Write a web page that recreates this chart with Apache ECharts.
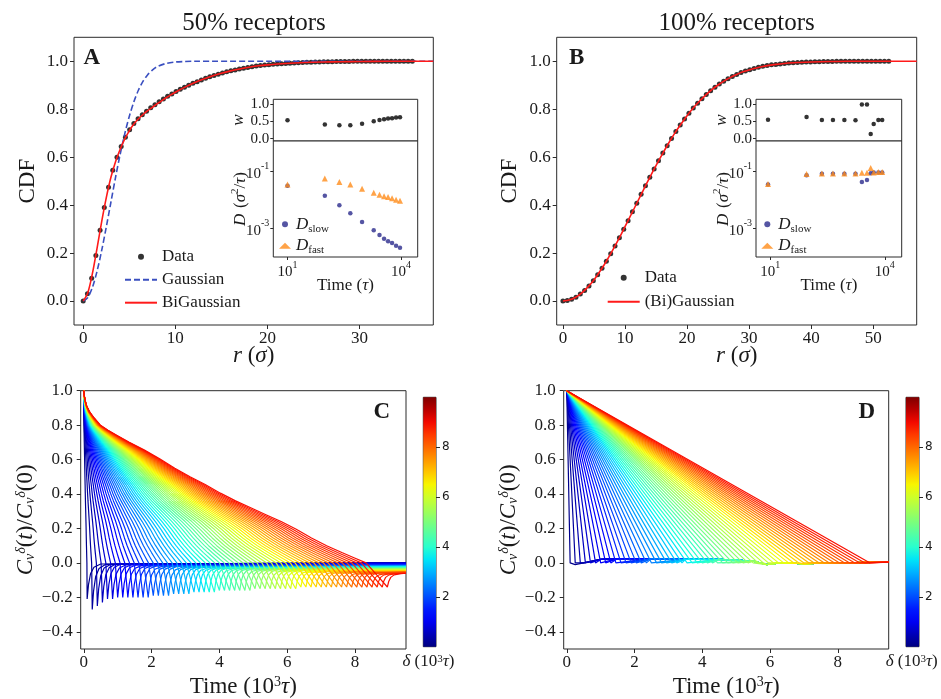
<!DOCTYPE html>
<html>
<head>
<meta charset="utf-8">
<script src="https://cdn.jsdelivr.net/npm/echarts@6/dist/echarts.min.js"></script>
<style>
  html, body { margin: 0; padding: 0; background: #fff; }
  #chart { width: 941px; height: 699px; }
</style>
</head>
<body>
<div id="chart"></div>
<script>
// ---------- Panel A: displacement CDF, 50% receptors ----------
const cdfBinA = 0.458;   // spacing of the histogram radii (sigma)
const cdfDataA = [0.000, 0.030, 0.095, 0.190, 0.295, 0.390, 0.475, 0.545, 0.600, 0.645,
  0.683, 0.714, 0.740, 0.760, 0.777, 0.792, 0.806, 0.819, 0.831, 0.843,
  0.854, 0.864, 0.874, 0.883, 0.892, 0.900, 0.908, 0.915, 0.922, 0.929,
  0.935, 0.941, 0.946, 0.951, 0.956, 0.960, 0.964, 0.968, 0.971, 0.974,
  0.977, 0.980, 0.982, 0.984, 0.986, 0.988, 0.989, 0.990, 0.991, 0.992,
  0.993, 0.994, 0.995, 0.996, 0.996, 0.997, 0.997, 0.998, 0.998, 0.998,
  0.999, 0.999, 0.999, 0.999, 1.000, 1.000, 1.000, 1.000, 1.000, 1.000,
  1.000, 1.000, 1.000, 1.000, 1.000, 1.000, 1.000, 1.000, 1.000];
const gaussR_A = [0, 0.5, 1, 1.5, 2, 2.5, 3, 3.5, 4, 4.5, 5, 5.5, 6, 6.5, 7, 7.5, 8, 9, 10, 11, 12, 38];
const gaussV_A = [0, 0.015, 0.057, 0.124, 0.210, 0.308, 0.411, 0.514, 0.610, 0.696, 0.770, 0.831,
  0.880, 0.917, 0.944, 0.963, 0.977, 0.991, 0.997, 0.999, 1.000, 1.000];
const biR_A = [0, 0.5, 1, 1.5, 2, 2.5, 3, 3.5, 4, 4.5, 5, 5.5, 6, 6.5, 7, 7.5, 8, 8.5, 9, 9.5, 10,
  11, 12, 13, 14, 15, 16, 17, 18, 19, 20, 22, 24, 26, 28, 30, 33, 38];
const biV_A = [0, 0.035, 0.115, 0.220, 0.330, 0.430, 0.515, 0.580, 0.632, 0.675, 0.710, 0.738,
  0.760, 0.778, 0.794, 0.808, 0.822, 0.835, 0.848, 0.860, 0.871, 0.891, 0.909, 0.925, 0.939,
  0.950, 0.960, 0.968, 0.975, 0.981, 0.985, 0.991, 0.995, 0.997, 0.998, 0.999, 1.000, 1.000];

// inset A: weight and diffusion coefficients vs lag time
const lagA = [10, 97, 235, 457, 935, 1900, 2700, 3560, 4550, 5800, 7400, 9400];
const weightA = [0.53, 0.41, 0.39, 0.39, 0.43, 0.50, 0.54, 0.56, 0.58, 0.59, 0.61, 0.62];
const dSlowA = [0.0316, 0.0141, 0.00646, 0.00339, 0.0017, 0.00087, 0.00059, 0.00044, 0.00036, 0.00031, 0.00025, 0.00021];
const dFastA = [0.0347, 0.0562, 0.0427, 0.0347, 0.0245, 0.0178, 0.0151, 0.0135, 0.0126, 0.0115, 0.0102, 0.0093];

// ---------- Panel B: displacement CDF, 100% receptors ----------
const cdfBinB = 0.7;
const cdfDataB = [0, 0.002, 0.007, 0.016, 0.029, 0.044, 0.063, 0.085, 0.110, 0.137,
  0.166, 0.197, 0.230, 0.264, 0.299, 0.335, 0.372, 0.408, 0.445, 0.481,
  0.516, 0.551, 0.585, 0.617, 0.648, 0.678, 0.707, 0.734, 0.759, 0.783,
  0.805, 0.825, 0.844, 0.861, 0.877, 0.892, 0.905, 0.917, 0.927, 0.937,
  0.945, 0.953, 0.959, 0.965, 0.970, 0.975, 0.979, 0.982, 0.985, 0.987,
  0.989, 0.991, 0.993, 0.994, 0.995, 0.996, 0.997, 0.997, 0.998, 0.998,
  0.999, 0.999, 0.999, 1, 1, 1, 1, 1, 1, 1, 1, 1, 1, 1, 1, 1];
const fitR_B = [0, 1, 2, 3, 4, 5, 6, 7, 8, 9, 10, 11, 12, 13, 14, 15, 16, 17, 18, 19, 20,
  21, 22, 23, 24, 25, 26, 27, 28, 29, 30, 32, 34, 36, 38, 40, 43, 46, 57];
const fitV_B = [0, 0.004, 0.015, 0.033, 0.058, 0.088, 0.125, 0.166, 0.211, 0.259, 0.310,
  0.361, 0.413, 0.465, 0.516, 0.565, 0.612, 0.657, 0.699, 0.737, 0.773, 0.805, 0.833,
  0.859, 0.882, 0.901, 0.918, 0.933, 0.945, 0.956, 0.964, 0.977, 0.986, 0.992, 0.995,
  0.997, 0.999, 1.000, 1.000];

// inset B
const lagB = [8.7, 89, 224, 436, 870, 1700, 2500, 3400, 4260, 5100, 6760, 8500];
const weightB = [0.55, 0.63, 0.54, 0.54, 0.54, 0.53, 0.99, 0.99, 0.13, 0.42, 0.54, 0.54];
const dSlowB = [0.0347, 0.0741, 0.0832, 0.0832, 0.0832, 0.0832, 0.0427, 0.0501, 0.0871, 0.0912, 0.0912, 0.0912];
const dFastB = [0.0363, 0.0813, 0.0851, 0.0851, 0.0851, 0.0851, 0.0891, 0.0891, 0.132, 0.0912, 0.0955, 0.0955];

// ---------- Panels C and D: velocity autocorrelation for each delta (10^3 tau) ----------
const deltas = [0.1, 0.25, 0.4, 0.55, 0.7, 0.85, 1.0, 1.15, 1.3, 1.45,
  1.6, 1.75, 1.9, 2.05, 2.2, 2.35, 2.5, 2.65, 2.8, 2.95,
  3.1, 3.25, 3.4, 3.55, 3.7, 3.85, 4.0, 4.15, 4.3, 4.45,
  4.6, 4.75, 4.9, 5.05, 5.2, 5.35, 5.5, 5.65, 5.8, 5.95,
  6.1, 6.25, 6.4, 6.55, 6.7, 6.85, 7.0, 7.15, 7.3, 7.45,
  7.6, 7.75, 7.9, 8.05, 8.2, 8.35, 8.5, 8.65, 8.8, 8.95];
// decay profile of C (time as a fraction of delta)
const profileS_C = [0, 0.002, 0.005, 0.01, 0.02, 0.035, 0.055, 0.08, 0.11, 0.15, 0.2, 0.25, 0.3,
  0.35, 0.4, 0.45, 0.5, 0.55, 0.6, 0.65, 0.7, 0.75, 0.8, 0.85, 0.89, 0.93];
const profileV_C = [1, 0.97, 0.94, 0.91, 0.875, 0.84, 0.80, 0.77, 0.74, 0.70, 0.655, 0.605, 0.55,
  0.50, 0.455, 0.405, 0.36, 0.32, 0.28, 0.24, 0.195, 0.145, 0.10, 0.06, 0.03, 0];
// anticorrelation minimum reached at t = delta, and the level the curve settles to afterwards
const dipC = [-0.21, -0.27, -0.25, -0.23, -0.21, -0.21, -0.20, -0.20, -0.20, -0.20,
  -0.20, -0.20, -0.20, -0.19, -0.19, -0.19, -0.19, -0.18, -0.18, -0.18,
  -0.18, -0.17, -0.17, -0.17, -0.17, -0.17, -0.16, -0.16, -0.16, -0.16,
  -0.16, -0.16, -0.16, -0.15, -0.15, -0.15, -0.15, -0.15, -0.15, -0.15,
  -0.15, -0.15, -0.14, -0.14, -0.14, -0.14, -0.14, -0.14, -0.14, -0.14,
  -0.14, -0.14, -0.14, -0.14, -0.14, -0.14, -0.14, -0.14, -0.14, -0.14];
const tailC = [0, 0, 0, 0, 0, -0.005, -0.005, -0.005, -0.01, -0.01,
  -0.01, -0.01, -0.015, -0.015, -0.015, -0.015, -0.02, -0.02, -0.02, -0.02,
  -0.02, -0.025, -0.025, -0.025, -0.025, -0.025, -0.03, -0.03, -0.03, -0.03,
  -0.03, -0.035, -0.035, -0.035, -0.035, -0.035, -0.04, -0.04, -0.04, -0.04,
  -0.04, -0.045, -0.045, -0.045, -0.045, -0.045, -0.05, -0.05, -0.05, -0.05,
  -0.05, -0.055, -0.055, -0.055, -0.055, -0.055, -0.06, -0.06, -0.06, -0.06];
const recoverDt = [0.04, 0.1, 0.2, 0.4];
const recoverMix = [0.6, 0.3, 0.12, 0.03];
// residual fluctuation of D after the correlation has vanished
const tailT_D = [0.25, 0.5, 1.0, 1.5, 2.5, 3.5, 4.5, 5.5, 5.9, 6.3, 7.0, 8.0, 9.5];
const tailV_D = [-0.01, 0.0, 0.02, 0.025, 0.025, 0.02, 0.02, 0.01, -0.01, 0.0, -0.005, 0.0, 0.005];
const colorRange = [0, 10];
const timeEnd = 9.5;

// ---------- tick values ----------
const ticksCdf = [0, 0.2, 0.4, 0.6, 0.8, 1.0];
const ticksRA = [0, 10, 20, 30];
const ticksRB = [0, 10, 20, 30, 40, 50];
const ticksW = [0, 0.5, 1.0];
const ticksLag = [10, 10000];
const ticksD = [0.001, 0.1];
const ticksCv = [-0.4, -0.2, 0, 0.2, 0.4, 0.6, 0.8, 1.0];
const ticksTime = [0, 2, 4, 6, 8];
const ticksBar = [2, 4, 6, 8];

// ---------- styling helpers ----------
const SERIF = '"Liberation Serif", "DejaVu Serif", serif';
const INK = '#1a1a1a';
const FRAME = '#2b2b2b';

const jetR = [[0, 0], [0.35, 0], [0.66, 1], [0.89, 1], [1, 0.5]];
const jetG = [[0, 0], [0.125, 0], [0.375, 1], [0.64, 1], [0.91, 0], [1, 0]];
const jetB = [[0, 0.5], [0.11, 1], [0.34, 1], [0.65, 0], [1, 0]];
function lerpTable(tab, x) {
  if (x <= tab[0][0]) return tab[0][1];
  for (let i = 1; i < tab.length; i++) {
    if (x <= tab[i][0]) {
      const a = tab[i - 1], b = tab[i];
      return a[1] + (b[1] - a[1]) * (x - a[0]) / (b[0] - a[0]);
    }
  }
  return tab[tab.length - 1][1];
}
function jet(x) {
  const c = t => Math.round(255 * lerpTable(t, x));
  return 'rgb(' + c(jetR) + ',' + c(jetG) + ',' + c(jetB) + ')';
}
function norm(v) { return (v - colorRange[0]) / (colorRange[1] - colorRange[0]); }

const fmtDec = v => (v < 0 ? '\u2212' : '') + Math.abs(v).toFixed(1);
const fmtInt = v => String(Math.round(v));
const fmtPow = v => {
  const e = Math.round(Math.log10(v));
  return '{b|10}{sup|' + (e < 0 ? '-' : '') + Math.abs(e) + '}';
};
const powRich = {
  b: { fontFamily: SERIF, fontSize: 15, color: INK, lineHeight: 20, verticalAlign: 'bottom' },
  sup: { fontFamily: SERIF, fontSize: 10, color: INK, lineHeight: 10, verticalAlign: 'top' }
};
const nameRich = {
  n: { fontFamily: SERIF, fontSize: 23, color: INK },
  i: { fontFamily: SERIF, fontSize: 23, fontStyle: 'italic', color: INK },
  sub: { fontFamily: SERIF, fontSize: 14, fontStyle: 'italic', color: INK, verticalAlign: 'bottom', lineHeight: 12 },
  sup: { fontFamily: SERIF, fontSize: 14, fontStyle: 'italic', color: INK, verticalAlign: 'top', lineHeight: 12 },
  supn: { fontFamily: SERIF, fontSize: 14, color: INK, verticalAlign: 'top', lineHeight: 12 }
};
const smallRich = {
  n: { fontFamily: SERIF, fontSize: 17, color: INK },
  i: { fontFamily: SERIF, fontSize: 17, fontStyle: 'italic', color: INK },
  supn: { fontFamily: SERIF, fontSize: 11, color: INK, verticalAlign: 'top', lineHeight: 10 },
  sub: { fontFamily: SERIF, fontSize: 11, color: INK, verticalAlign: 'bottom', lineHeight: 10 }
};

function axis(o) {
  const a = {
    type: o.type || 'value', gridIndex: o.grid, min: o.min, max: o.max,
    axisLine: { show: false, onZero: false },
    splitLine: { show: false },
    axisTick: o.ticks ? { show: true, length: o.tickLen || 4, customValues: o.ticks,
      lineStyle: { color: FRAME, width: 1 } } : { show: false },
    axisLabel: o.ticks && o.labels !== false ? {
      show: true, customValues: o.ticks, formatter: o.fmt, margin: o.margin || 6,
      fontFamily: o.font || SERIF, fontSize: o.size || 17, color: INK, rich: o.rich
    } : { show: false }
  };
  if (o.position) a.position = o.position;
  if (o.name) {
    a.name = o.name;
    a.nameLocation = 'middle';
    a.nameGap = o.gap;
    a.nameMoveOverlap = false;
    a.nameTextStyle = { fontFamily: SERIF, fontSize: o.nameSize || 23, color: INK, rich: o.nameRich || nameRich };
  }
  return a;
}

// ---------- grids ----------
const gridBox = (l, t, w, h, bg) => ({ left: l, top: t, width: w, height: h, show: true,
  borderColor: FRAME, borderWidth: 1, backgroundColor: bg || 'transparent' });
const grids = [
  gridBox(74, 37.3, 359.3, 287.7),         // 0 A
  gridBox(556.7, 37.3, 360, 287.7),        // 1 B
  gridBox(273.3, 99.3, 144.4, 41.7, '#fff'), // 2 A inset w
  gridBox(273.3, 141, 144.4, 116, '#fff'),   // 3 A inset D
  gridBox(756, 99.3, 145.7, 41.7, '#fff'),   // 4 B inset w
  gridBox(756, 141, 145.7, 116, '#fff'),     // 5 B inset D
  gridBox(80.7, 390.7, 325.3, 260),        // 6 C
  gridBox(563.7, 390.7, 325, 260),         // 7 D
  gridBox(423.3, 397.3, 12.7, 249.4),      // 8 C colour bar
  gridBox(906, 397.3, 13, 249.4)           // 9 D colour bar
];

const lagMin = 4.215, lagMax = 27600, dMin = 1e-4, dMax = 1.165;
const xAxes = [
  axis({ grid: 0, min: -1, max: 38, ticks: ticksRA, fmt: fmtInt, margin: 5, name: '{i|r} ({i|σ})', gap: 19 }),
  axis({ grid: 1, min: -1, max: 57, ticks: ticksRB, fmt: fmtInt, margin: 5, name: '{i|r} ({i|σ})', gap: 19 }),
  axis({ grid: 2, type: 'log', min: lagMin, max: lagMax }),
  axis({ grid: 3, type: 'log', min: lagMin, max: lagMax, ticks: ticksLag, tickLen: 3, fmt: fmtPow, rich: powRich,
    margin: 3, size: 15, name: '{n|Time (}{i|τ}{n|)}', gap: 20, nameRich: smallRich }),
  axis({ grid: 4, type: 'log', min: lagMin, max: lagMax }),
  axis({ grid: 5, type: 'log', min: lagMin, max: lagMax, ticks: ticksLag, tickLen: 3, fmt: fmtPow, rich: powRich,
    margin: 3, size: 15, name: '{n|Time (}{i|τ}{n|)}', gap: 20, nameRich: smallRich }),
  axis({ grid: 6, min: -0.09, max: timeEnd, ticks: ticksTime, fmt: fmtInt, margin: 5,
    name: '{n|Time (10}{supn|3}{i|τ}{n|)}', gap: 26 }),
  axis({ grid: 7, min: -0.09, max: timeEnd, ticks: ticksTime, fmt: fmtInt, margin: 5,
    name: '{n|Time (10}{supn|3}{i|τ}{n|)}', gap: 26 }),
  { type: 'category', gridIndex: 8, data: ['δ'], show: false },
  { type: 'category', gridIndex: 9, data: ['δ'], show: false }
];
const cvName = '{i|C}{sub|v}{sup|δ}{n|(}{i|t}{n|)/}{i|C}{sub|v}{sup|δ}{n|(0)}';
const dName = '{i|D} {n|(}{i|σ}{supn|2}{n|/}{i|τ}{n|)}';
const yAxes = [
  axis({ grid: 0, min: -0.1, max: 1.1, ticks: ticksCdf, fmt: fmtDec, name: '{n|CDF}', gap: 35 }),
  axis({ grid: 1, min: -0.1, max: 1.1, ticks: ticksCdf, fmt: fmtDec, name: '{n|CDF}', gap: 35 }),
  axis({ grid: 2, min: -0.07, max: 1.14, ticks: ticksW, fmt: fmtDec, tickLen: 3, margin: 4, size: 15,
    name: '{i|w}', gap: 26, nameRich: smallRich }),
  axis({ grid: 3, type: 'log', min: dMin, max: dMax, ticks: ticksD, fmt: fmtPow, rich: powRich, tickLen: 3, margin: 4,
    name: dName, gap: 21, nameRich: smallRich }),
  axis({ grid: 4, min: -0.07, max: 1.14, ticks: ticksW, fmt: fmtDec, tickLen: 3, margin: 4, size: 15,
    name: '{i|w}', gap: 26, nameRich: smallRich }),
  axis({ grid: 5, type: 'log', min: dMin, max: dMax, ticks: ticksD, fmt: fmtPow, rich: powRich, tickLen: 3, margin: 4,
    name: dName, gap: 21, nameRich: smallRich }),
  axis({ grid: 6, min: -0.5, max: 1.0, ticks: ticksCv, fmt: fmtDec, margin: 8, name: cvName, gap: 43 }),
  axis({ grid: 7, min: -0.5, max: 1.0, ticks: ticksCv, fmt: fmtDec, margin: 8, name: cvName, gap: 43 }),
  axis({ grid: 8, min: colorRange[0], max: colorRange[1], ticks: ticksBar, fmt: fmtInt, position: 'right',
    margin: 6, size: 12, font: '"DejaVu Sans", sans-serif' }),
  axis({ grid: 9, min: colorRange[0], max: colorRange[1], ticks: ticksBar, fmt: fmtInt, position: 'right',
    margin: 6, size: 12, font: '"DejaVu Sans", sans-serif' })
];

// ---------- series ----------
const series = [];
const zip = (xs, ys) => xs.map((x, i) => [x, ys[i]]);

series.push({ name: 'Data', type: 'scatter', xAxisIndex: 0, yAxisIndex: 0, symbolSize: 5,
  itemStyle: { color: '#000' }, data: cdfDataA.map((v, i) => [i * cdfBinA, v]) });
series.push({ name: 'Gaussian', type: 'line', xAxisIndex: 0, yAxisIndex: 0, symbol: 'none', smooth: 0.3,
  lineStyle: { color: '#3a4fc0', width: 1.6, type: [6, 3] }, data: zip(gaussR_A, gaussV_A) });
series.push({ name: 'BiGaussian', type: 'line', xAxisIndex: 0, yAxisIndex: 0, symbol: 'none', smooth: 0.3,
  lineStyle: { color: '#ff1a1a', width: 1.6 }, data: zip(biR_A, biV_A) });

series.push({ name: 'Data', type: 'scatter', xAxisIndex: 1, yAxisIndex: 1, symbolSize: 5,
  itemStyle: { color: '#000' }, data: cdfDataB.map((v, i) => [i * cdfBinB, v]) });
series.push({ name: '(Bi)Gaussian', type: 'line', xAxisIndex: 1, yAxisIndex: 1, symbol: 'none', smooth: 0.3,
  lineStyle: { color: '#ff1a1a', width: 1.6 }, data: zip(fitR_B, fitV_B) });

function insetSeries(xi, lag, w, slow, fast) {
  series.push({ name: 'w', type: 'scatter', xAxisIndex: xi, yAxisIndex: xi, symbolSize: 4.5,
    itemStyle: { color: '#000' }, data: zip(lag, w) });
  series.push({ name: 'Dslow', type: 'scatter', xAxisIndex: xi + 1, yAxisIndex: xi + 1, symbolSize: 4.5,
    itemStyle: { color: '#2b2b8c' }, data: zip(lag, slow) });
  series.push({ name: 'Dfast', type: 'scatter', xAxisIndex: xi + 1, yAxisIndex: xi + 1, symbol: 'triangle',
    symbolSize: 6, itemStyle: { color: '#ff8c1a' }, data: zip(lag, fast) });
}
insetSeries(2, lagA, weightA, dSlowA, dFastA);
insetSeries(4, lagB, weightB, dSlowB, dFastB);

// panel C curves
deltas.forEach((d, k) => {
  const pts = profileS_C.map((s, j) => [s * d, profileV_C[j]]);
  pts.push([0.965 * d, 0.5 * dipC[k]]);
  pts.push([d, dipC[k]]);
  recoverDt.forEach((dt, j) => {
    if (d + dt < timeEnd) pts.push([d + dt, dipC[k] * recoverMix[j] + tailC[k] * (1 - recoverMix[j])]);
  });
  pts.push([timeEnd, tailC[k]]);
  series.push({ type: 'line', xAxisIndex: 6, yAxisIndex: 6, symbol: 'none', silent: true,
    lineStyle: { color: jet(norm(d)), width: 1.2 }, data: pts });
});
// panel D curves
deltas.forEach(d => {
  const pts = [[0, 1], [d, 0]];
  tailT_D.forEach((t, j) => { if (t > d + 0.05) pts.push([t, tailV_D[j]]); });
  series.push({ type: 'line', xAxisIndex: 7, yAxisIndex: 7, symbol: 'none', silent: true,
    lineStyle: { color: jet(norm(d)), width: 1.2 }, data: pts });
});

// colour bars
const jetStops = [];
for (let i = 0; i <= 20; i++) jetStops.push({ offset: i / 20, color: jet(i / 20) });
[8, 9].forEach(gi => {
  series.push({ type: 'bar', xAxisIndex: gi, yAxisIndex: gi, barWidth: '100%', silent: true,
    itemStyle: { color: new echarts.graphic.LinearGradient(0, 1, 0, 0, jetStops) },
    data: [colorRange[1]] });
});

// ---------- legends ----------
const legendText = { fontFamily: SERIF, fontSize: 17, color: INK, lineHeight: 18 };
const lineOnly = name => ({ name: name, itemStyle: { opacity: 0 } });
const legends = [
  { left: 124, top: 247.7, orient: 'vertical', itemWidth: 32, itemHeight: 6, itemGap: 5, padding: 0,
    selectedMode: false, data: ['Data', lineOnly('Gaussian'), lineOnly('BiGaussian')], textStyle: legendText },
  { left: 606.7, top: 268.7, orient: 'vertical', itemWidth: 32, itemHeight: 6, itemGap: 6, padding: 0,
    selectedMode: false, data: ['Data', lineOnly('(Bi)Gaussian')], textStyle: legendText }
];
[[279, 214.3], [761.3, 214.3]].forEach(p => {
  legends.push({ left: p[0], top: p[1], orient: 'vertical', itemWidth: 12, itemHeight: 6, itemGap: 1.4,
    padding: 0, selectedMode: false, data: ['Dslow', 'Dfast'],
    formatter: n => n === 'Dslow' ? '{i|D}{sub|slow}' : '{i|D}{sub|fast}',
    textStyle: { fontFamily: SERIF, fontSize: 17, color: INK, lineHeight: 20, rich: smallRich } });
});

// ---------- free text ----------
const txt = (x, y, text, size, extra) => ({
  type: 'text', x: x, y: y, silent: true,
  style: Object.assign({ text: text, fontFamily: SERIF, fontSize: size, fill: INK,
    align: 'center', verticalAlign: 'middle', textAlign: 'center', textVerticalAlign: 'middle' }, extra || {})
});
const barLabelRich = {
  i: { fontFamily: SERIF, fontSize: 17, fontStyle: 'italic', fill: INK, color: INK },
  n: { fontFamily: SERIF, fontSize: 17, fill: INK, color: INK },
  s: { fontFamily: SERIF, fontSize: 11, fill: INK, color: INK, verticalAlign: 'top', lineHeight: 10 }
};
const graphics = [
  txt(254, 23.3, '50% receptors', 25),
  txt(736.7, 23.3, '100% receptors', 25),
  txt(91.7, 58, 'A', 23, { fontWeight: 'bold' }),
  txt(576.7, 58, 'B', 23, { fontWeight: 'bold' }),
  txt(381.7, 411.7, 'C', 23, { fontWeight: 'bold' }),
  txt(866.7, 411.7, 'D', 23, { fontWeight: 'bold' }),
  txt(428.5, 662, '{i|δ}{n| (10}{s|3}{i|τ}{n|)}', 17, { rich: barLabelRich }),
  txt(911.7, 662, '{i|δ}{n| (10}{s|3}{i|τ}{n|)}', 17, { rich: barLabelRich })
];

const chart = echarts.init(document.getElementById('chart'), null, { renderer: 'canvas' });
chart.setOption({
  animation: false,
  backgroundColor: '#fff',
  grid: grids,
  xAxis: xAxes,
  yAxis: yAxes,
  legend: legends,
  series: series,
  graphic: graphics
});
</script>
</body>
</html>
